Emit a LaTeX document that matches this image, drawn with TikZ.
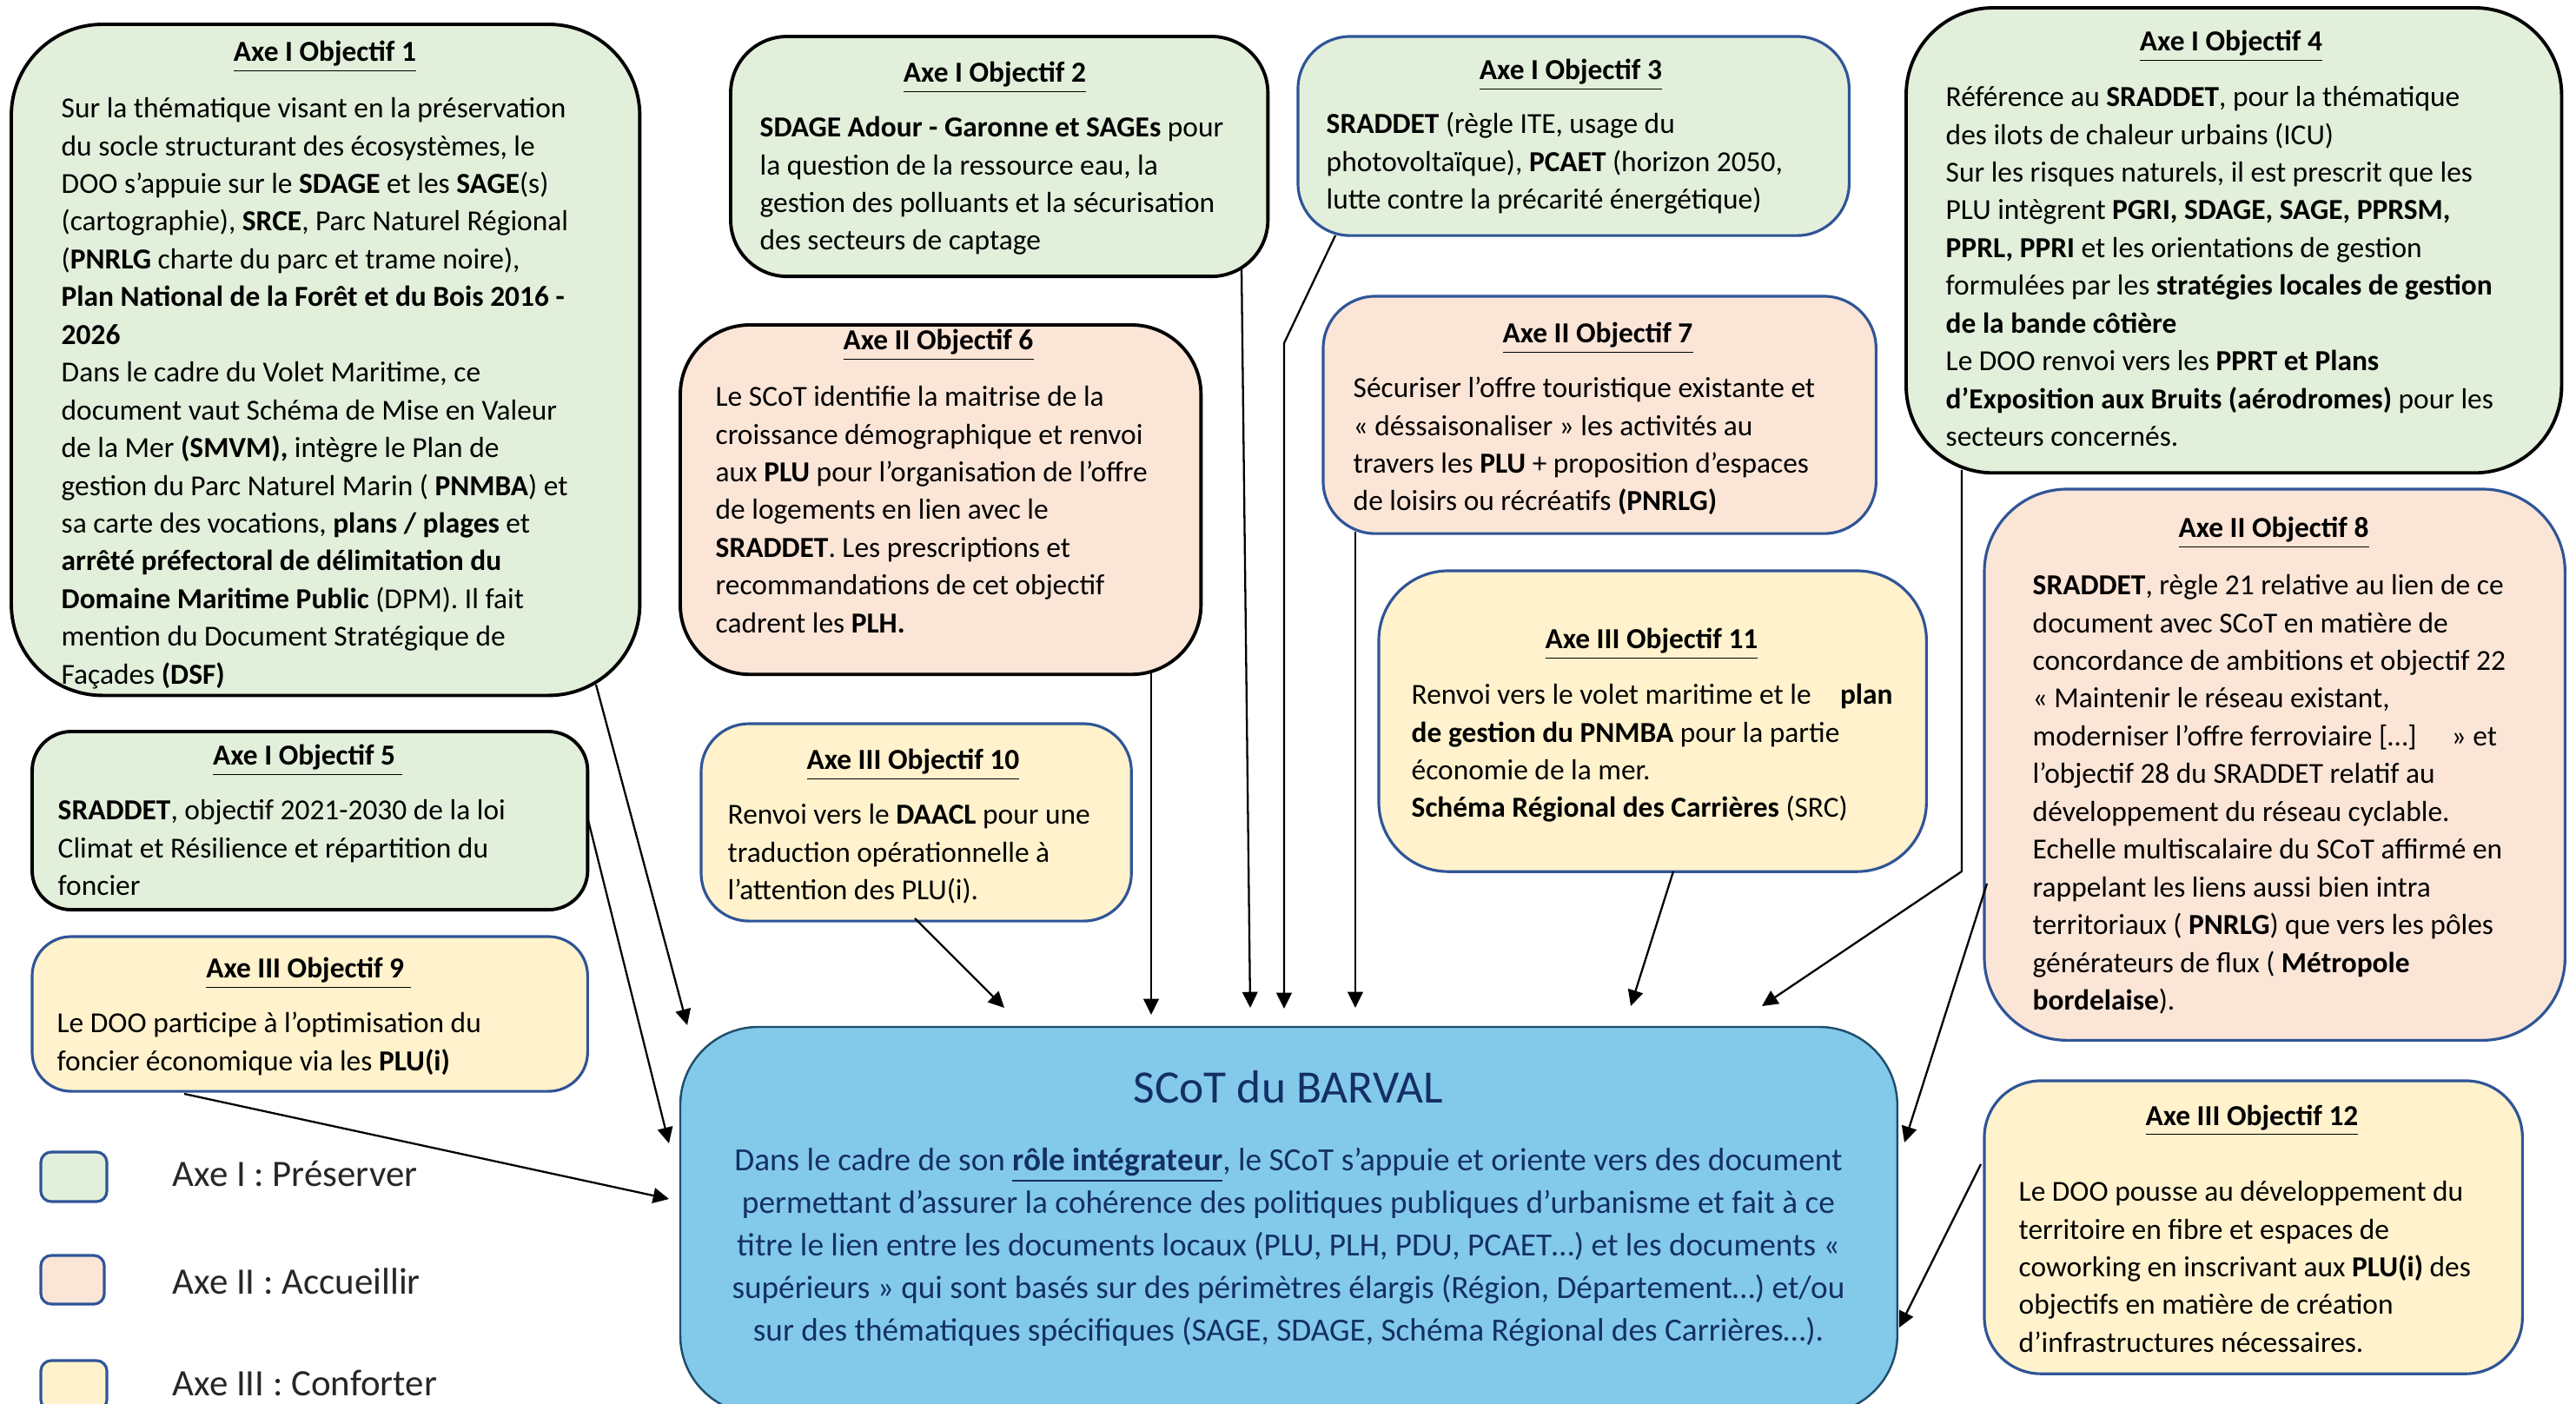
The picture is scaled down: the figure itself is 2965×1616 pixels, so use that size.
\documentclass[tikz,border=0pt]{standalone}
\usepackage{fontspec}
\setmainfont{Carlito}
\usetikzlibrary{arrows.meta}
\definecolor{cgreen}{HTML}{E2EFDA}
\definecolor{cpink}{HTML}{FBE5D6}
\definecolor{cyellow}{HTML}{FFF2CC}
\definecolor{cblueline}{HTML}{2F5597}
\definecolor{ccentral}{HTML}{83CAEA}
\definecolor{ccentralline}{HTML}{1F4E6B}
\definecolor{cnavy}{HTML}{142F66}
\definecolor{clegend}{HTML}{262626}
\newcommand\bodyfont{\fontsize{9.5}{12.35}\selectfont}
\begin{document}
\begin{tikzpicture}[x=0.01cm,y=-0.01cm,
  objbox/.style={rectangle, anchor=north west, inner sep=0pt, outer sep=0pt},
  blackline/.style={draw=black, line width=1.1pt},
  blueline/.style={draw=cblueline, line width=0.9pt},
  ttl/.style={anchor=base, inner sep=0pt, font=\fontsize{9.5}{12}\selectfont\bfseries},
  bodytxt/.style={anchor=north west, inner sep=0pt, align=left, font=\bodyfont},
  legtxt/.style={anchor=base west, inner sep=0pt, text=clegend, font=\fontsize{12.2}{15}\selectfont},
  arr/.style={line width=0.65pt, -{Triangle[length=5.2pt,width=5pt]}}
]
\useasboundingbox (0,0) rectangle (2965,1616);

% ---------- boxes ----------
\node[objbox, blackline, fill=cgreen, rounded corners=1.05cm, minimum width=7.23cm, minimum height=7.72cm] (b1) at (13,28) {};
\node[objbox, blackline, fill=cgreen, rounded corners=0.65cm, minimum width=6.18cm, minimum height=2.76cm] (b2) at (841,42) {};
\node[objbox, blueline, fill=cgreen, rounded corners=0.6cm, minimum width=6.34cm, minimum height=2.29cm] (b3) at (1494,42) {};
\node[objbox, blackline, fill=cgreen, rounded corners=1.0cm, minimum width=7.54cm, minimum height=5.35cm] (b4) at (2194,9) {};
\node[objbox, blackline, fill=cgreen, rounded corners=0.45cm, minimum width=6.39cm, minimum height=2.05cm] (b5) at (37,842) {};
\node[objbox, blackline, fill=cpink, rounded corners=0.8cm, minimum width=5.99cm, minimum height=4.02cm] (b6) at (783,374) {};
\node[objbox, blueline, fill=cpink, rounded corners=0.6cm, minimum width=6.36cm, minimum height=2.73cm] (b7) at (1523,341) {};
\node[objbox, blueline, fill=cpink, rounded corners=0.95cm, minimum width=6.68cm, minimum height=6.34cm] (b8) at (2284,563) {};
\node[objbox, blueline, fill=cyellow, rounded corners=0.45cm, minimum width=6.39cm, minimum height=1.78cm] (b9) at (37,1078) {};
\node[objbox, blueline, fill=cyellow, rounded corners=0.55cm, minimum width=4.95cm, minimum height=2.27cm] (b10) at (807,833) {};
\node[objbox, blueline, fill=cyellow, rounded corners=0.8cm, minimum width=6.30cm, minimum height=3.46cm] (b11) at (1587,657) {};
\node[objbox, blueline, fill=cyellow, rounded corners=0.65cm, minimum width=6.19cm, minimum height=3.37cm] (b12) at (2284,1244) {};
\node[objbox, draw=ccentralline, line width=0.7pt, fill=ccentral, rounded corners=0.9cm, minimum width=14.0cm, minimum height=4.45cm] (scot) at (783,1182) {};

% legend squares
\node[objbox, blueline, fill=cgreen, rounded corners=0.12cm, minimum width=0.76cm, minimum height=0.57cm] (lg1) at (47,1326) {};
\node[objbox, blueline, fill=cpink, rounded corners=0.12cm, minimum width=0.73cm, minimum height=0.56cm] (lg2) at (47,1445) {};
\node[objbox, blueline, fill=cyellow, rounded corners=0.12cm, minimum width=0.76cm, minimum height=0.57cm] (lg3) at (47,1566) {};

% ---------- titles ----------
\node[ttl] (t1) at (374,71) {\underline{Axe I Objectif 1}};
\node[ttl] (t2) at (1145,95) {\underline{Axe I Objectif 2}};
\node[ttl] (t3) at (1808,92) {\underline{Axe I Objectif 3}};
\node[ttl] (t4) at (2568,59) {\underline{Axe I Objectif 4}};
\node[ttl] (t5) at (354,881) {\underline{Axe I Objectif 5\ }};
\node[ttl] (t6) at (1080,403) {\underline{Axe II Objectif 6}};
\node[ttl] (t7) at (1839,395) {\underline{Axe II Objectif 7}};
\node[ttl] (t8) at (2617,619) {\underline{Axe II Objectif 8}};
\node[ttl] (t9) at (355,1126) {\underline{Axe III Objectif 9\ }};
\node[ttl] (t10) at (1051,886) {\underline{Axe III Objectif 10}};
\node[ttl] (t11) at (1901,747) {\underline{Axe III Objectif 11}};
\node[ttl] (t12) at (2592,1295) {\underline{Axe III Objectif 12}};

% ---------- bodies ----------
\node[bodytxt] (x1) at (70,104.6) {\strut Sur la thématique visant en la préservation\\
du socle structurant des écosystèmes, le\\
DOO s’appuie sur le \textbf{SDAGE} et les \textbf{SAGE}(s)\\
(cartographie), \textbf{SRCE}, Parc Naturel Régional\\
(\textbf{PNRLG} charte du parc et trame noire),\\
\textbf{Plan National de la Forêt et du Bois 2016 -}\\
\textbf{2026}\\
Dans le cadre du Volet Maritime, ce\\
document vaut Schéma de Mise en Valeur\\
de la Mer \textbf{(SMVM),} intègre le Plan de\\
gestion du Parc Naturel Marin ( \textbf{PNMBA}) et\\
sa carte des vocations, \textbf{plans / plages} et\\
\textbf{arrêté préfectoral de délimitation du}\\
\textbf{Domaine Maritime Public} (DPM). Il fait\\
mention du Document Stratégique de\\
Façades \textbf{(DSF)}};

\node[bodytxt] (x2) at (874,126.6) {\strut\textbf{SDAGE Adour - Garonne et SAGEs} pour\\
la question de la ressource eau, la\\
gestion des polluants et la sécurisation\\
des secteurs de captage};

\node[bodytxt] (x3) at (1526,122.6) {\strut\textbf{SRADDET} (règle ITE, usage du\\
photovoltaïque), \textbf{PCAET} (horizon 2050,\\
lutte contre la précarité énergétique)};

\node[bodytxt] (x4) at (2239,91.6) {\strut Référence au \textbf{SRADDET}, pour la thématique\\
des ilots de chaleur urbains (ICU)\\
Sur les risques naturels, il est prescrit que les\\
PLU intègrent \textbf{PGRI, SDAGE, SAGE, PPRSM,}\\
\textbf{PPRL, PPRI} et les orientations de gestion\\
formulées par les \textbf{stratégies locales de gestion}\\
\textbf{de la bande côtière}\\
Le DOO renvoi vers les \textbf{PPRT et Plans}\\
\textbf{d’Exposition aux Bruits (aérodromes)} pour les\\
secteurs concernés.};

\node[bodytxt] (x5) at (66,912.6) {\strut\textbf{SRADDET}, objectif 2021-2030 de la loi\\
Climat et Résilience et répartition du\\
foncier};

\node[bodytxt] (x6) at (823,436.6) {\strut Le SCoT identifie la maitrise de la\\
croissance démographique et renvoi\\
aux \textbf{PLU} pour l’organisation de l’offre\\
de logements en lien avec le\\
\textbf{SRADDET}. Les prescriptions et\\
recommandations de cet objectif\\
cadrent les \textbf{PLH.}};

\node[bodytxt] (x7) at (1557,426.6) {\strut Sécuriser l’offre touristique existante et\\
« déssaisonaliser » les activités au\\
travers les \textbf{PLU} + proposition d’espaces\\
de loisirs ou récréatifs \textbf{(PNRLG)}};

\node[bodytxt] (x8) at (2339,653.6) {\strut\textbf{SRADDET}, règle 21 relative au lien de ce\\
document avec SCoT en matière de\\
concordance de ambitions et objectif 22\\
« Maintenir le réseau existant,\\
moderniser l’offre ferroviaire […]\hspace{1.2em}» et\\
l’objectif 28 du SRADDET relatif au\\
développement du réseau cyclable.\\
Echelle multiscalaire du SCoT affirmé en\\
rappelant les liens aussi bien intra\\
territoriaux ( \textbf{PNRLG}) que vers les pôles\\
générateurs de flux ( \textbf{Métropole}\\
\textbf{bordelaise}).};

\node[bodytxt] (x9) at (65,1157.6) {\strut Le DOO participe à l’optimisation du\\
foncier économique via les \textbf{PLU(i)}};

\node[bodytxt] (x10) at (837,917.6) {\strut Renvoi vers le \textbf{DAACL} pour une\\
traduction opérationnelle à\\
l’attention des PLU(i).};

\node[bodytxt] (x11) at (1624,779.6) {\strut Renvoi vers le volet maritime et le\hspace{1em}\textbf{plan}\\
\textbf{de gestion du PNMBA} pour la partie\\
économie de la mer.\\
\textbf{Schéma Régional des Carrières} (SRC)};

\node[bodytxt] (x12) at (2323,1351.6) {\strut Le DOO pousse au développement du\\
territoire en fibre et espaces de\\
coworking en inscrivant aux \textbf{PLU(i)} des\\
objectifs en matière de création\\
d’infrastructures nécessaires.};

% ---------- central ----------
\node[anchor=base, inner sep=0pt, text=cnavy, font=\fontsize{15.2}{18}\selectfont] (st) at (1483,1270) {SCoT du BARVAL};
\node[anchor=north, inner sep=0pt, align=center, text=cnavy, font=\fontsize{10.6}{13.94}\selectfont] (sb) at (1483,1312.7) {\strut Dans le cadre de son \textbf{\underline{rôle intégrateur}}, le SCoT s’appuie et oriente vers des document\\
permettant d’assurer la cohérence des politiques publiques d’urbanisme et fait à ce\\
titre le lien entre les documents locaux (PLU, PLH, PDU, PCAET…) et les documents «\\
supérieurs » qui sont basés sur des périmètres élargis (Région, Département…) et/ou\\
sur des thématiques spécifiques (SAGE, SDAGE, Schéma Régional des Carrières…).};

% ---------- legend ----------
\node[legtxt] (l1) at (198,1366) {Axe I : Préserver};
\node[legtxt] (l2) at (198,1489) {Axe II : Accueillir};
\node[legtxt] (l3) at (198,1606) {Axe III : Conforter};

% ---------- connectors ----------
\coordinate (s1) at (686,788);   \coordinate (e1) at (791,1180);
\coordinate (s2) at (676,940);   \coordinate (e2) at (770,1316);
\coordinate (s3) at (212,1259);  \coordinate (e3) at (770,1380);
\coordinate (s4) at (1053,1057); \coordinate (e4) at (1156,1160);
\coordinate (s5) at (1325,775);  \coordinate (e5) at (1325,1168);
\coordinate (s6) at (1429,308);  \coordinate (e6) at (1439,1160);
\coordinate (s7) at (1537,271);  \coordinate (m7) at (1478,395); \coordinate (e7) at (1478,1161);
\coordinate (s8) at (1560,612);  \coordinate (e8) at (1560,1160);
\coordinate (s9) at (1926,1003); \coordinate (e9) at (1877,1158);
\coordinate (s10) at (2258,541); \coordinate (m10) at (2258,1003); \coordinate (e10) at (2028,1158);
\coordinate (s11) at (2287,1017); \coordinate (e11) at (2192,1315);
\coordinate (s12) at (2280,1340); \coordinate (e12) at (2186,1528);

\draw[arr] (s1) -- (e1);
\draw[arr] (s2) -- (e2);
\draw[arr] (s3) -- (e3);
\draw[arr] (s4) -- (e4);
\draw[arr] (s5) -- (e5);
\draw[arr] (s6) -- (e6);
\draw[arr] (s7) -- (m7) -- (e7);
\draw[arr] (s8) -- (e8);
\draw[arr] (s9) -- (e9);
\draw[arr] (s10) -- (m10) -- (e10);
\draw[arr] (s11) -- (e11);
\draw[arr] (s12) -- (e12);
\end{tikzpicture}
\end{document}
